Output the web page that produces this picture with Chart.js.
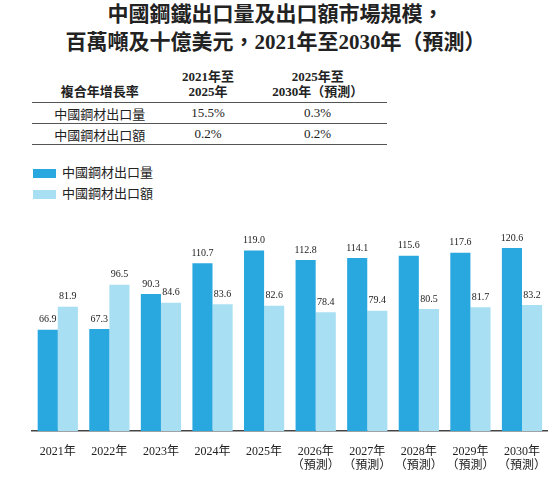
<!DOCTYPE html>
<html><head><meta charset="utf-8">
<script src="https://cdn.jsdelivr.net/npm/chart.js@4"></script>
<style>
body{margin:0;width:551px;height:478px;background:#fff;font-family:"Liberation Serif","Noto Sans CJK TC",serif;color:#222;position:relative;overflow:hidden}
#title{position:absolute;top:0px;left:0;width:551px;text-align:center;font-weight:bold;font-size:21px;line-height:28px}
table{position:absolute;top:68px;left:32px;width:355px;border-collapse:collapse;font-size:13px}
td{text-align:center;padding:0;height:20px}
th{font-size:13px;font-weight:bold;line-height:15px;padding-bottom:3px;vertical-align:bottom}
tr.r td{border-top:1.5px solid #555}
tr.last td{border-bottom:1.5px solid #555}
.leg{position:absolute;left:33px;font-size:13px}
.leg span{display:inline-block;width:23px;height:9px;margin-right:6px;vertical-align:-1px}
#wrap{position:absolute;left:0;top:205px;width:551px;height:273px}
</style></head><body>
<div id="title">中國鋼鐵出口量及出口額市場規模，<br>百萬噸及十億美元，2021年至2030年（預測）</div>
<table>
<tr><th>複合年增長率</th><th>2021年至<br>2025年</th><th>2025年至<br>2030年（預測）</th></tr>
<tr class="r"><td>中國鋼材出口量</td><td>15.5%</td><td>0.3%</td></tr>
<tr class="r last"><td>中國鋼材出口額</td><td>0.2%</td><td>0.2%</td></tr>
</table>
<div class="leg" style="top:162px"><span style="background:#29a8e0"></span>中國鋼材出口量</div>
<div class="leg" style="top:183px"><span style="background:#a8dff3"></span>中國鋼材出口額</div>
<div id="wrap"><canvas id="c"></canvas></div>
<script>
const years = [["2021年"],["2022年"],["2023年"],["2024年"],["2025年"],["2026年","（預測）"],["2027年","（預測）"],["2028年","（預測）"],["2029年","（預測）"],["2030年","（預測）"]];
const volume = [66.9,67.3,90.3,110.7,119.0,112.8,114.1,115.6,117.6,120.6];
const value = [81.9,96.5,84.6,83.6,82.6,78.4,79.4,80.5,81.7,83.2];

const labelPlugin = {
  id: "labels",
  afterDatasetsDraw(chart){
    const ctx = chart.ctx;
    ctx.save();
    ctx.font = "10px 'Liberation Serif'";
    ctx.fillStyle = "#222";
    ctx.textAlign = "center";
    ctx.textBaseline = "bottom";
    chart.data.datasets.forEach((ds,i)=>{
      chart.getDatasetMeta(i).data.forEach((b,j)=>{
        ctx.fillText(ds.data[j].toFixed(1), b.x, b.y-5);
      });
    });
    ctx.restore();
  }
};

new Chart(document.getElementById("c"), {
  type: "bar",
  data: {
    labels: years,
    datasets: [
      {label:"中國鋼材出口量", data: volume, backgroundColor:"#29a8e0"},
      {label:"中國鋼材出口額", data: value, backgroundColor:"#a8dff3"}
    ]
  },
  options: {
    responsive: true,
    maintainAspectRatio: false,
    animation: false,
    layout: {padding:{left:32,right:0,top:0,bottom:0}},
    datasets: {bar:{categoryPercentage:0.78, barPercentage:1}},
    plugins: {legend:{display:false}, tooltip:{enabled:false}},
    scales: {
      y: {display:false, min:0, max:149},
      x: {
        grid:{display:false},
        border:{color:"#444", width:1.5},
        ticks:{color:"#222", font:{family:"'Liberation Serif','Noto Sans CJK TC'", size:12}, padding:5, maxRotation:0, autoSkip:false}
      }
    }
  },
  plugins: [labelPlugin]
});
</script>
</body></html>
